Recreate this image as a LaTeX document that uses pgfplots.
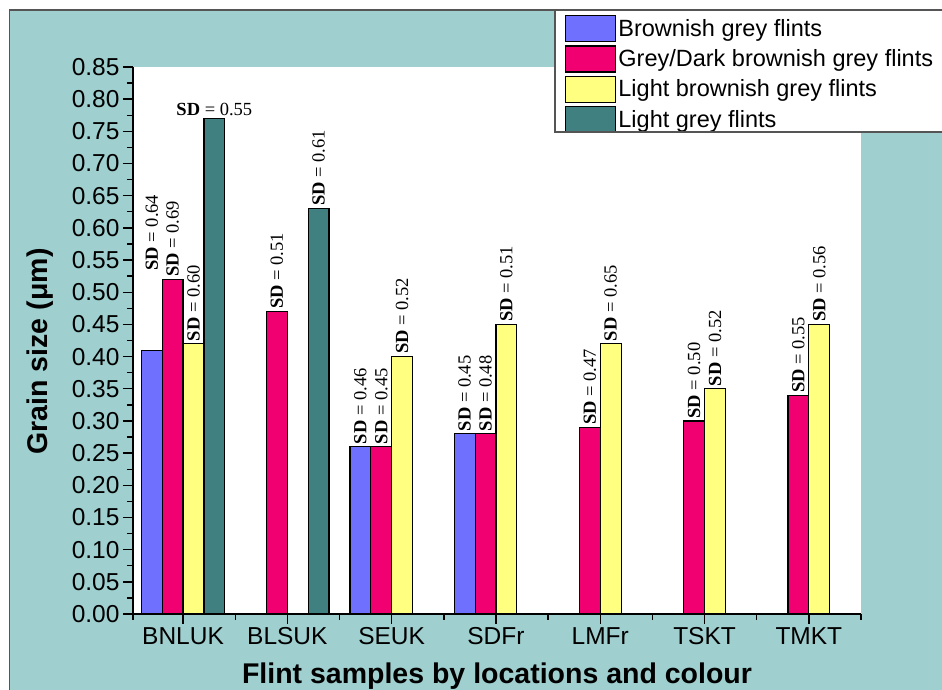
\documentclass[border=0pt]{standalone}
\usepackage{pgfplots}
\pgfplotsset{compat=1.18}
\usepackage{pgfplotstable}
\usepackage{fontspec}
\setmainfont{Liberation Sans}
\newfontfamily\sdfamily{Liberation Serif}

\definecolor{bgteal}{HTML}{9FCFCF}
\definecolor{cblue}{HTML}{7070FF}
\definecolor{cred}{HTML}{F00070}
\definecolor{cyellow}{HTML}{FFFF80}
\definecolor{cteal}{HTML}{408080}
\definecolor{framegray}{HTML}{555555}

% grain size (um) and standard deviation per location
\pgfplotstableread{
x y sd
0 0.41 0.64
}\brownishA
\pgfplotstableread{
x y sd
2 0.26 0.46
3 0.28 0.45
}\brownishB
\pgfplotstableread{
x y sd
0 0.52 0.69
1 0.47 0.51
2 0.26 0.45
3 0.28 0.48
4 0.29 0.47
5 0.30 0.50
6 0.34 0.55
}\greydark
\pgfplotstableread{
x y sd
0 0.42 0.60
2 0.40 0.52
3 0.45 0.51
4 0.42 0.65
5 0.35 0.52
6 0.45 0.56
}\lightbrownish
\pgfplotstableread{
x y sd
0 0.77 0.55
}\lightgreyA
\pgfplotstableread{
x y sd
1 0.63 0.61
}\lightgreyB

\pgfplotsset{
  swatch/.style={legend image code/.code={%
    \draw[##1, line width=1.2pt] (0pt,-13pt) rectangle (50pt,13pt);}},
}
\tikzset{sdrot/.style={rotate=90, anchor=west}}

\begin{document}
\begin{tikzpicture}
% page background and frame
\fill[white] (0pt,0pt) rectangle (942pt,690pt);
\fill[bgteal] (9.5pt,0pt) rectangle (942pt,680pt);
\draw[framegray, line width=1.5pt] (9.5pt,0pt) -- (9.5pt,680pt) -- (942pt,680pt);
% legend panel
\fill[white] (555pt,680pt) rectangle (960pt,558pt);

\begin{axis}[
  at={(133pt,76pt)}, anchor=south west,
  scale only axis, width=728pt, height=547pt,
  ybar, bar width=0.2,
  xmin=-0.48, xmax=6.5, ymin=0, ymax=0.85,
  axis lines*=left,
  axis line style={line width=1.6pt, black},
  axis background/.style={fill=white},
  xtick={0,...,6},
  xticklabels={BNLUK,BLSUK,SEUK,SDFr,LMFr,TSKT,TMKT},
  minor xtick={-0.48,0.5,1.5,2.5,3.5,4.5,5.5,6.5},
  ytick distance=0.05,
  minor y tick num=1,
  tick align=outside,
  major tick length=10pt, minor tick length=6pt,
  every tick/.style={black, line width=1.4pt},
  tick label style={font=\fontsize{24.5}{28}\selectfont, black},
  yticklabel style={/pgf/number format/.cd, fixed, fixed zerofill, precision=2, assume math mode=true},
  xlabel={Flint samples by locations and colour},
  ylabel={Grain size (μm)},
  xlabel style={at={(axis description cs:0.5,0)}, anchor=base, yshift=-70pt,
    font=\bfseries\fontsize{28.5}{32}\selectfont},
  ylabel style={at={(axis description cs:-0.1168,0.480)}, anchor=base,
    font=\bfseries\fontsize{28.5}{32}\selectfont},
  nodes near coords={\textbf{SD} = \pgfplotspointmeta},
  point meta=explicit symbolic,
  every node near coord/.append style={font=\sdfamily\fontsize{18.5}{20}\selectfont, inner sep=2pt, black},
  legend cell align=left,
  legend style={draw=none, fill=none, at={(0.5934,1.0951)}, anchor=north west,
    inner sep=0pt, row sep=3pt, font=\fontsize{23.5}{26}\selectfont,
    /tikz/every even column/.append style={column sep=10pt}},
]
% Brownish grey flints
\addplot[fill=cblue, draw=black, line width=1.2pt, bar shift=-0.3,
  nodes near coords style={sdrot}, swatch]
  table[x=x, y=y, meta=sd] {\brownishB};
\addlegendentry{Brownish grey flints}
\addplot[fill=cblue, draw=black, line width=1.2pt, bar shift=-0.3, forget plot,
  nodes near coords style={yshift=77pt, sdrot}]
  table[x=x, y=y, meta=sd] {\brownishA};
% Grey/Dark brownish grey flints
\addplot[fill=cred, draw=black, line width=1.2pt, bar shift=-0.1,
  nodes near coords style={sdrot}, swatch]
  table[x=x, y=y, meta=sd] {\greydark};
\addlegendentry{Grey/Dark brownish grey flints}
% Light brownish grey flints
\addplot[fill=cyellow, draw=black, line width=1.2pt, bar shift=0.1,
  nodes near coords style={sdrot}, swatch]
  table[x=x, y=y, meta=sd] {\lightbrownish};
\addlegendentry{Light brownish grey flints}
% Light grey flints
\addplot[fill=cteal, draw=black, line width=1.2pt, bar shift=0.3,
  nodes near coords style={anchor=south}, swatch]
  table[x=x, y=y, meta=sd] {\lightgreyA};
\addlegendentry{Light grey flints}
\addplot[fill=cteal, draw=black, line width=1.2pt, bar shift=0.3, forget plot,
  nodes near coords style={sdrot}]
  table[x=x, y=y, meta=sd] {\lightgreyB};
\end{axis}

\draw[framegray, line width=1.6pt] (555pt,680pt) rectangle (960pt,558pt);

\pgfresetboundingbox
\path[use as bounding box] (0pt,0pt) rectangle (942pt,690pt);
\end{tikzpicture}
\end{document}
